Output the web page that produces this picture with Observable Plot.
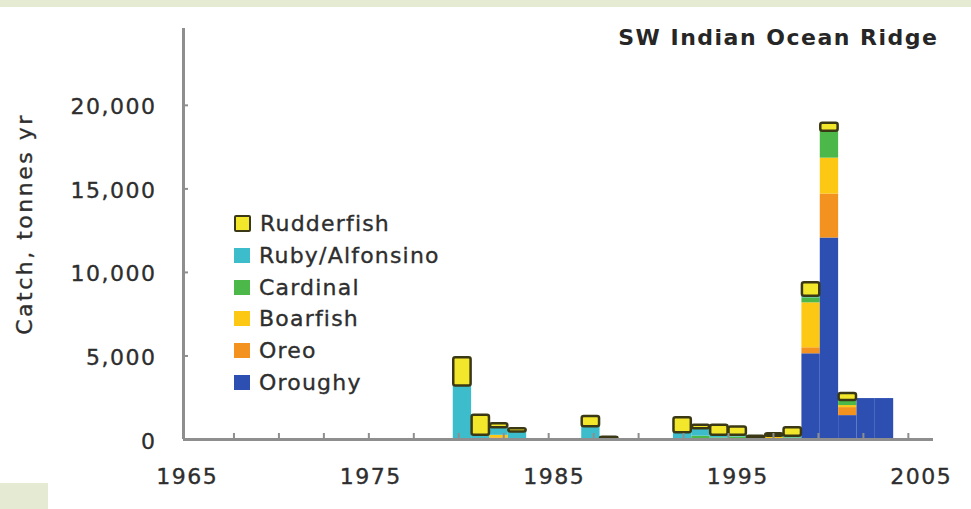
<!DOCTYPE html>
<html>
<head>
<meta charset="utf-8">
<script src="https://cdn.jsdelivr.net/npm/d3@7"></script>
<script src="https://cdn.jsdelivr.net/npm/@observablehq/plot@0.6"></script>
<style>
  html, body { margin: 0; padding: 0; background: #ffffff; }
  #wrap { position: relative; width: 971px; height: 509px; overflow: hidden; font-family: "DejaVu Sans", sans-serif; }
  #wrap svg { position: absolute; left: 0; top: 0; }
  #wrap svg text { letter-spacing: 1.5px; stroke: #2e2e2e; stroke-width: 0.35px; }
  .band { position: absolute; background: #e4ebd2; }
  #legend { position: absolute; left: 234px; top: 208px; }
  .item { display: flex; align-items: center; height: 31.7px; font-size: 22px; color: #2e2e2e; letter-spacing: 1.2px; white-space: nowrap; -webkit-text-stroke: 0.35px #2e2e2e; }
  .sw { width: 16px; height: 15px; margin-right: 9px; box-sizing: border-box; }
</style>
</head>
<body>
<div id="wrap">
  <div class="band" style="left:0;top:0;width:971px;height:7px"></div>
  <div class="band" style="left:0;top:483px;width:48px;height:26px"></div>
</div>
<script>
// Deep-water catch on the South-West Indian Ocean Ridge, tonnes per year
const years = [1980, 1981, 1982, 1983, 1987, 1988, 1992, 1993, 1994, 1995, 1996, 1997, 1998, 1999, 2000, 2001, 2002, 2003];

// stack order, bottom to top
const species = ["Oroughy", "Oreo", "Boarfish", "Cardinal", "Ruby/Alfonsino", "Rudderfish"];
const colors  = ["#2e4fb2", "#f4921f", "#fdc814", "#4cb84a", "#3dbdcc", "#f2e72a"];

const oroughy    = [0, 0, 0, 0, 0, 0, 0, 0, 0, 0, 0, 0, 0, 5130, 12060, 1430, 2450, 2450];
const oreo       = [0, 0, 100, 0, 0, 0, 0, 0, 0, 0, 0, 50, 0, 360, 2630, 480, 0, 0];
const boarfish   = [0, 0, 150, 0, 0, 0, 0, 0, 0, 50, 50, 100, 0, 2690, 2150, 120, 0, 0];
const cardinal   = [0, 0, 0, 0, 0, 0, 50, 200, 100, 100, 50, 50, 100, 300, 1610, 300, 0, 0];
const ruby       = [3200, 250, 450, 450, 770, 40, 350, 450, 150, 100, 0, 0, 100, 100, 0, 0, 0, 0];
const rudderfish = [1700, 1200, 250, 200, 600, 100, 900, 200, 600, 500, 100, 150, 500, 800, 480, 420, 0, 0];

const yTicks = [0, 5000, 10000, 15000, 20000];
const xLabels = [1965, 1975, 1985, 1995, 2005];
const xTicks = [1967.55, 1970.0, 1972.45, 1974.9, 1977.35, 1979.8, 1982.25, 1984.7, 1987.15, 1989.6, 1992.05, 1994.5, 1996.95, 1999.4, 2001.85, 2004.3];
const xDomain = [1964.8, 2005.67];
const yDomain = [0, 24600];

const title = "SW Indian Ocean Ridge";
const yTitle = "Catch, tonnes yr";

const axisGray = "#8e8e8e";
const textColor = "#2e2e2e";
const rudderEdge = "#3b3915";
const thousands = d3.format(",");

// cumulative stacks per year
const seriesBySpecies = [oroughy, oreo, boarfish, cardinal, ruby, rudderfish];
const rows = [];
years.forEach((year, i) => {
  let base = 0;
  species.forEach((s, k) => {
    const v = seriesBySpecies[k][i];
    if (v > 0) rows.push({year, species: s, y1: base, y2: base + v});
    base += v;
  });
});
const plain = rows.filter(d => d.species !== "Rudderfish");
const boxed = rows.filter(d => d.species === "Rudderfish");

const chart = Plot.plot({
  width: 971,
  height: 509,
  marginLeft: 183,
  marginRight: 38,
  marginTop: 28,
  marginBottom: 70,
  style: {fontFamily: "DejaVu Sans, sans-serif", fontSize: "22px", color: textColor, background: "transparent"},
  x: {domain: xDomain, label: null},
  y: {domain: yDomain, label: null},
  color: {domain: species, range: colors},
  marks: [
    Plot.rect(plain, {x1: d => d.year - 0.5, x2: d => d.year + 0.5, y1: "y1", y2: "y2", fill: "species"}),
    Plot.rect(boxed, {
      x1: d => d.year - 0.5, x2: d => d.year + 0.5, y1: "y1", y2: "y2",
      fill: colors[species.indexOf("Rudderfish")], stroke: rudderEdge, strokeWidth: 2.5,
      rx: 2, insetLeft: 0.5, insetRight: 0.5
    }),
    // inward tick marks
    Plot.axisY({ticks: yTicks.slice(1), tickSize: 5, dx: 5, tickFormat: () => "", stroke: axisGray, strokeWidth: 2}),
    Plot.axisX({ticks: xTicks, tickSize: 6, dy: -6, tickFormat: () => "", stroke: axisGray, strokeWidth: 2}),
    // tick labels
    Plot.axisY({ticks: yTicks, tickSize: 0, tickPadding: 27, tickFormat: d => thousands(d), dy: 2, fill: textColor}),
    Plot.axisX({ticks: xLabels, tickSize: 0, tickPadding: 29, tickFormat: d => String(d), fill: textColor}),
    // axis lines
    Plot.ruleY([0], {stroke: axisGray, strokeWidth: 3}),
    Plot.ruleX([xDomain[0]], {stroke: axisGray, strokeWidth: 3}),
    // titles
    Plot.text([title], {frameAnchor: "top-right", textAnchor: "end", lineAnchor: "middle", dx: 5, dy: 9, fontWeight: "bold", fontSize: 22, fill: "#262626"}),
    Plot.text([yTitle], {frameAnchor: "left", textAnchor: "middle", rotate: -90, lineAnchor: "middle", dx: -159, dy: -10, fontSize: 22, fill: textColor})
  ]
});

const wrap = document.getElementById("wrap");
wrap.appendChild(chart);
d3.select(chart).selectAll("text").filter(function () { return this.textContent === yTitle; }).style("letter-spacing", "2.5px");
d3.select(chart).selectAll("text").filter(function () { return this.textContent === title; }).style("stroke-width", "0px");

// legend, listed top to bottom in reverse stack order
const legend = document.createElement("div");
legend.id = "legend";
species.slice().reverse().forEach(s => {
  const item = document.createElement("div");
  item.className = "item";
  const sw = document.createElement("div");
  sw.className = "sw";
  sw.style.background = colors[species.indexOf(s)];
  if (s === "Rudderfish") { sw.style.border = `2.5px solid ${rudderEdge}`; sw.style.borderRadius = "2px"; sw.style.height = "17px"; sw.style.width = "17px"; }
  const label = document.createElement("span");
  label.textContent = s;
  item.appendChild(sw);
  item.appendChild(label);
  legend.appendChild(item);
});
wrap.appendChild(legend);
</script>
</body>
</html>
